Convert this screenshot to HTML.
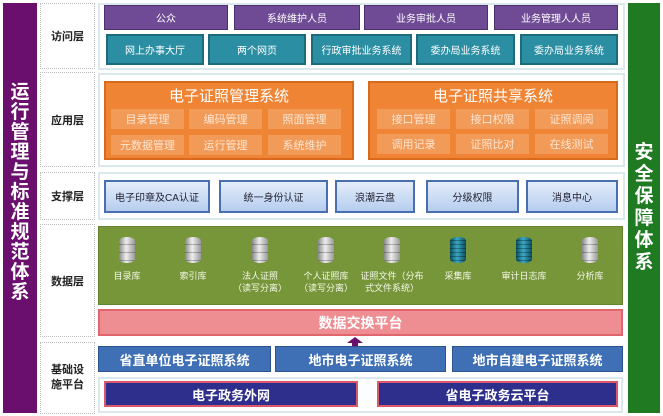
<!DOCTYPE html>
<html><head><meta charset="utf-8"><style>
*{margin:0;padding:0;box-sizing:border-box}
body{width:663px;height:416px;background:#fff;position:relative;overflow:hidden;font-family:"Liberation Sans","Noto Sans CJK SC",sans-serif}
div{position:absolute}
.c{display:flex;align-items:center;justify-content:center;text-align:center}
.pu{background:#6f4a95;border:1px solid #4e2f70;color:#fff;font-size:10px;top:5px;height:25px}
.te{background:#2b8ea3;border:2px solid #1c6a7a;color:#fff;font-size:10px;top:34px;height:31px}
.or{background:#ef8434;border:2px solid #d8691d;top:81px;height:79px;width:250px}
.ot{color:#fff;font-size:15px;top:2px;left:0;right:0;text-align:center}
.cell{background:#f29a58;color:#fde6d2;font-size:11px;height:20px;width:73px}
.bl{background:linear-gradient(#e4edfa,#b6cdef);border:2px solid #4a6fb0;color:#223;font-size:10px;top:180px;height:33px}
.lbl{border:1px dotted #bbb;left:40px;width:55px;font-size:11px;font-weight:bold;color:#222}
.sec{border:2px solid #dbe9ef}
.db{width:16px;height:26px;border-radius:8px/4px;background:repeating-linear-gradient(180deg,transparent 0 7px,rgba(0,0,0,.25) 7px 8px),linear-gradient(90deg,#888,#eee 45%,#999);top:237px}
.db.b{background:repeating-linear-gradient(180deg,transparent 0 3px,rgba(0,0,0,.3) 3px 4px),linear-gradient(90deg,#0c4e5e,#3aa7c4 45%,#0c4e5e)}
.dl{color:#f4f8e8;font-size:9px;top:270px;width:70px;line-height:12px;text-align:center}
.sb{background:#3f6fb4;border:1px solid #2c5290;color:#fff;font-size:13px;font-weight:bold;top:346px;height:26px}
.nv{background:#2e2e8c;border:2px solid #d85a6a;color:#fff;font-size:13px;font-weight:bold;top:381px;height:26px}
</style></head><body>
<div class="c" style="left:3px;top:3px;width:34px;height:410px;background:#6a0f6e;color:#fff;font-size:19px;font-weight:bold;line-height:20px;padding:0 7px 30px">运行管理与标准规范体系</div>
<div class="c" style="left:628px;top:3px;width:32px;height:410px;background:#1f7a22;color:#fff;font-size:19px;font-weight:bold;line-height:22px;padding:0 6px">安全保障体系</div>

<div class="lbl c" style="top:3px;height:66px">访问层</div>
<div class="lbl c" style="top:72px;height:95px">应用层</div>
<div class="lbl c" style="top:172px;height:48px">支撑层</div>
<div class="lbl c" style="top:224px;height:113px">数据层</div>
<div class="lbl c" style="top:342px;height:72px;line-height:15px">基础设<br>施平台</div>

<div class="sec" style="left:98px;top:3px;width:527px;height:67px"></div>
<div class="pu c" style="left:104px;width:124px">公众</div>
<div class="pu c" style="left:234px;width:126px">系统维护人员</div>
<div class="pu c" style="left:364px;width:124px">业务审批人员</div>
<div class="pu c" style="left:494px;width:124px">业务管理人人员</div>
<div class="te c" style="left:106px;width:98px">网上办事大厅</div>
<div class="te c" style="left:208px;width:98px">两个网页</div>
<div class="te c" style="left:311px;width:101px">行政审批业务系统</div>
<div class="te c" style="left:416px;width:99px">委办局业务系统</div>
<div class="te c" style="left:520px;width:98px">委办局业务系统</div>

<div class="sec" style="left:98px;top:73px;width:527px;height:94px"></div>
<div class="or" style="left:104px"><div class="ot">电子证照管理系统</div>
<div class="cell c" style="left:5px;top:26px">目录管理</div><div class="cell c" style="left:83px;top:26px">编码管理</div><div class="cell c" style="left:162px;top:26px">照面管理</div>
<div class="cell c" style="left:5px;top:52px">元数据管理</div><div class="cell c" style="left:83px;top:52px">运行管理</div><div class="cell c" style="left:162px;top:52px">系统维护</div></div>
<div class="or" style="left:368px"><div class="ot">电子证照共享系统</div>
<div class="cell c" style="left:7px;top:26px">接口管理</div><div class="cell c" style="left:86px;top:26px">接口权限</div><div class="cell c" style="left:165px;top:26px">证照调阅</div>
<div class="cell c" style="left:7px;top:51px">调用记录</div><div class="cell c" style="left:86px;top:51px">证照比对</div><div class="cell c" style="left:165px;top:51px">在线测试</div></div>

<div class="sec" style="left:98px;top:172px;width:527px;height:48px"></div>
<div class="bl c" style="left:104px;width:106px">电子印章及CA认证</div>
<div class="bl c" style="left:219px;width:109px">统一身份认证</div>
<div class="bl c" style="left:335px;width:80px">浪潮云盘</div>
<div class="bl c" style="left:426px;width:93px">分级权限</div>
<div class="bl c" style="left:526px;width:92px">消息中心</div>

<div style="left:98px;top:226px;width:525px;height:79px;background:#77963a;border:1px solid #65832d"></div>
<div class="db" style="left:119px"></div><div class="db" style="left:185px"></div><div class="db" style="left:252px"></div><div class="db" style="left:318px"></div><div class="db" style="left:384px"></div><div class="db b" style="left:450px"></div><div class="db b" style="left:516px"></div><div class="db" style="left:582px"></div>
<div class="dl" style="left:92px">目录库</div>
<div class="dl" style="left:158px">索引库</div>
<div class="dl" style="left:225px">法人证照<br>（读写分离）</div>
<div class="dl" style="left:291px">个人证照库<br>（读写分离）</div>
<div class="dl" style="left:357px">证照文件（分布<br>式文件系统）</div>
<div class="dl" style="left:423px">采集库</div>
<div class="dl" style="left:489px">审计日志库</div>
<div class="dl" style="left:555px">分析库</div>

<div class="c" style="left:98px;top:309px;width:525px;height:27px;background:#ef8e92;border:2px solid #e0656c;color:#fff;font-size:14px;font-weight:bold">数据交换平台</div>
<div style="left:347px;top:337px;width:0;height:0;border-left:8px solid transparent;border-right:8px solid transparent;border-bottom:6px solid #6a0f6e"></div>
<div style="left:352px;top:342px;width:6px;height:4px;background:#6a0f6e"></div>

<div class="sb c" style="left:98px;width:173px">省直单位电子证照系统</div>
<div class="sb c" style="left:275px;width:171px">地市电子证照系统</div>
<div class="sb c" style="left:452px;width:171px">地市自建电子证照系统</div>

<div class="sec" style="left:98px;top:377px;width:525px;height:36px"></div>
<div class="nv c" style="left:104px;width:254px">电子政务外网</div>
<div class="nv c" style="left:377px;width:241px">省电子政务云平台</div>
</body></html>
